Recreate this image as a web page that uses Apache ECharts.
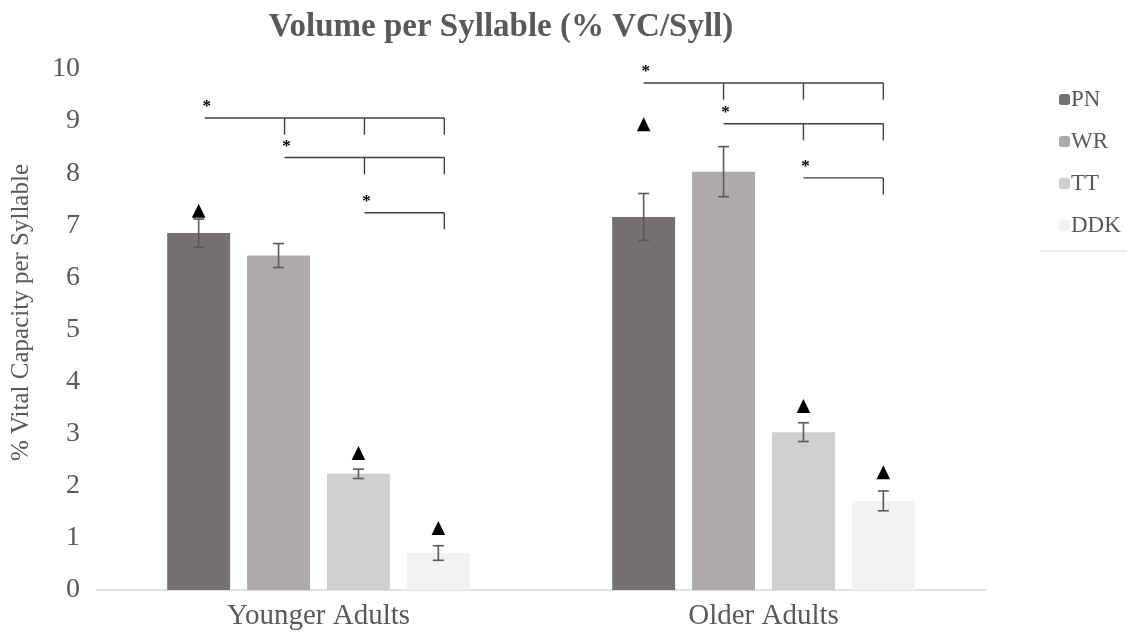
<!DOCTYPE html>
<html>
<head>
<meta charset="utf-8">
<script src="https://cdn.jsdelivr.net/npm/echarts@6/dist/echarts.min.js"></script>
<style>
  html, body { margin: 0; padding: 0; background: #ffffff; }
  #chart { width: 1127px; height: 634px; }
</style>
</head>
<body>
<div id="chart"></div>
<script>
// Volume per syllable, bars with SE whiskers, grouped by age
const categories = ['Younger Adults', 'Older Adults'];
const taskNames = ['PN', 'WR', 'TT', 'DDK'];
const yTicks = [0, 1, 2, 3, 4, 5, 6, 7, 8, 9, 10];

const pnValues  = [6.85, 7.16];
const wrValues  = [6.42, 8.03];
const ttValues  = [2.23, 3.03];
const ddkValues = [0.71, 1.71];

const pnErr  = [0.27, 0.45];
const wrErr  = [0.23, 0.48];
const ttErr  = [0.09, 0.18];
const ddkErr = [0.14, 0.19];

// [group, task, height] of the ▲ markers
const triangleMarks = [
  [0, 0, 7.28], [0, 2, 2.63], [0, 3, 1.19],
  [1, 0, 8.94], [1, 2, 3.53], [1, 3, 2.26]
];

// [group, first task, height]: bracket runs from the first task to DDK
const brackets = [
  [0, 0, 9.06], [0, 1, 8.30], [0, 2, 7.24],
  [1, 0, 9.73], [1, 1, 8.95], [1, 2, 7.91]
];

const taskValues = [pnValues, wrValues, ttValues, ddkValues];
const taskErrors = [pnErr, wrErr, ttErr, ddkErr];
const colors = ['#767171', '#aeaaaa', '#d0cece', '#f2f2f2'];
const FONT = '"Liberation Serif", "Times New Roman", serif';
const TEXT = '#595959';
const CAT_GAP = 0.32;
const BAR_GAP = 0.27;
const BRACKET_SHIFT = [6, 0];

function barCenter(api, g, k) {
  const c = api.coord([g, 0])[0];
  const band = api.size([1, 0])[0];
  const bw = band * (1 - CAT_GAP) / (4 + 3 * BAR_GAP);
  return c + (k - 1.5) * bw * (1 + BAR_GAP);
}

const errorData = [];
taskValues.forEach((vals, k) => {
  vals.forEach((v, g) => {
    errorData.push([g, k, v - taskErrors[k][g], v + taskErrors[k][g]]);
  });
});

const barSeries = taskNames.map((name, k) => ({
  name: name,
  type: 'bar',
  data: taskValues[k],
  barCategoryGap: (CAT_GAP * 100) + '%',
  barGap: (BAR_GAP * 100) + '%',
  itemStyle: { color: colors[k] },
  emphasis: { disabled: true }
}));

const chart = echarts.init(document.getElementById('chart'));
chart.setOption({
  animation: false,
  title: {
    text: 'Volume per Syllable (% VC/Syll)',
    left: 496,
    textAlign: 'center',
    top: 6,
    textStyle: { fontFamily: FONT, fontSize: 33, fontWeight: 'bold', color: TEXT }
  },
  legend: {
    orient: 'vertical',
    left: 1054,
    top: 83,
    itemWidth: 11,
    itemHeight: 11,
    itemGap: 19,
    data: taskNames,
    textStyle: { fontFamily: FONT, fontSize: 23, color: TEXT, padding: [0, 0, 0, -4], lineHeight: 23 }
  },
  grid: { left: 96, right: 141, top: 69, bottom: 44, containLabel: false },
  xAxis: {
    type: 'category',
    data: categories,
    axisLine: { lineStyle: { color: '#d9d9d9', width: 1.5 } },
    axisTick: { show: false },
    axisLabel: { fontFamily: FONT, fontSize: 29, color: TEXT, margin: 12 }
  },
  yAxis: {
    type: 'value',
    min: yTicks[0],
    max: yTicks[yTicks.length - 1],
    interval: 1,
    name: '% Vital Capacity per Syllable',
    nameLocation: 'middle',
    nameGap: 62,
    nameTextStyle: { fontFamily: FONT, fontSize: 25, color: TEXT, padding: [0, 0, 0, 34] },
    axisLine: { show: false },
    axisTick: { show: false },
    splitLine: { show: false },
    axisLabel: { fontFamily: FONT, fontSize: 28, color: TEXT, margin: 16 }
  },
  graphic: [{
    type: 'line',
    shape: { x1: 1041, y1: 251, x2: 1127, y2: 251 },
    style: { stroke: '#d9d9d9', lineWidth: 1 }
  }],
  series: barSeries.concat([
    {
      type: 'custom',
      name: 'error',
      z: 5,
      silent: true,
      data: errorData,
      encode: { x: 0, y: [2, 3] },
      renderItem: function (params, api) {
        const g = api.value(0), k = api.value(1);
        const x = barCenter(api, g, k);
        const yl = api.coord([g, api.value(2)])[1];
        const yh = api.coord([g, api.value(3)])[1];
        const cap = 5.5;
        const st = { stroke: '#595959', lineWidth: 1.6 };
        return {
          type: 'group',
          children: [
            { type: 'line', shape: { x1: x, y1: yl, x2: x, y2: yh }, style: st },
            { type: 'line', shape: { x1: x - cap, y1: yl, x2: x + cap, y2: yl }, style: st },
            { type: 'line', shape: { x1: x - cap, y1: yh, x2: x + cap, y2: yh }, style: st }
          ]
        };
      }
    },
    {
      type: 'custom',
      name: 'marks',
      z: 6,
      silent: true,
      data: triangleMarks,
      encode: { x: 0, y: 2 },
      renderItem: function (params, api) {
        const g = api.value(0), k = api.value(1);
        const x = barCenter(api, g, k);
        const y = api.coord([g, api.value(2)])[1];
        const w = 6.8, h = 7;
        return {
          type: 'polygon',
          shape: { points: [[x, y - h], [x + w, y + h], [x - w, y + h]] },
          style: { fill: '#000000' }
        };
      }
    },
    {
      type: 'custom',
      name: 'brackets',
      z: 6,
      silent: true,
      data: brackets,
      encode: { x: 0, y: 2 },
      renderItem: function (params, api) {
        const g = api.value(0), k0 = api.value(1);
        const shift = BRACKET_SHIFT[g];
        const y = api.coord([g, api.value(2)])[1];
        const tick = api.size([0, 0.32])[1];
        const xs = [];
        for (let k = k0; k < 4; k++) xs.push(barCenter(api, g, k) + shift);
        const st = { stroke: '#404040', lineWidth: 1.4 };
        const children = [
          { type: 'line', shape: { x1: xs[0], y1: y, x2: xs[xs.length - 1], y2: y }, style: st }
        ];
        for (let i = 1; i < xs.length; i++) {
          children.push({ type: 'line', shape: { x1: xs[i], y1: y, x2: xs[i], y2: y + tick }, style: st });
        }
        children.push({
          type: 'text',
          x: xs[0] + 2, y: y - 11,
          style: { text: '*', fontFamily: FONT, fontSize: 17, fontWeight: 'bold', fill: '#000000', align: 'center', verticalAlign: 'middle' }
        });
        return { type: 'group', children: children };
      }
    }
  ])
});
</script>
</body>
</html>
